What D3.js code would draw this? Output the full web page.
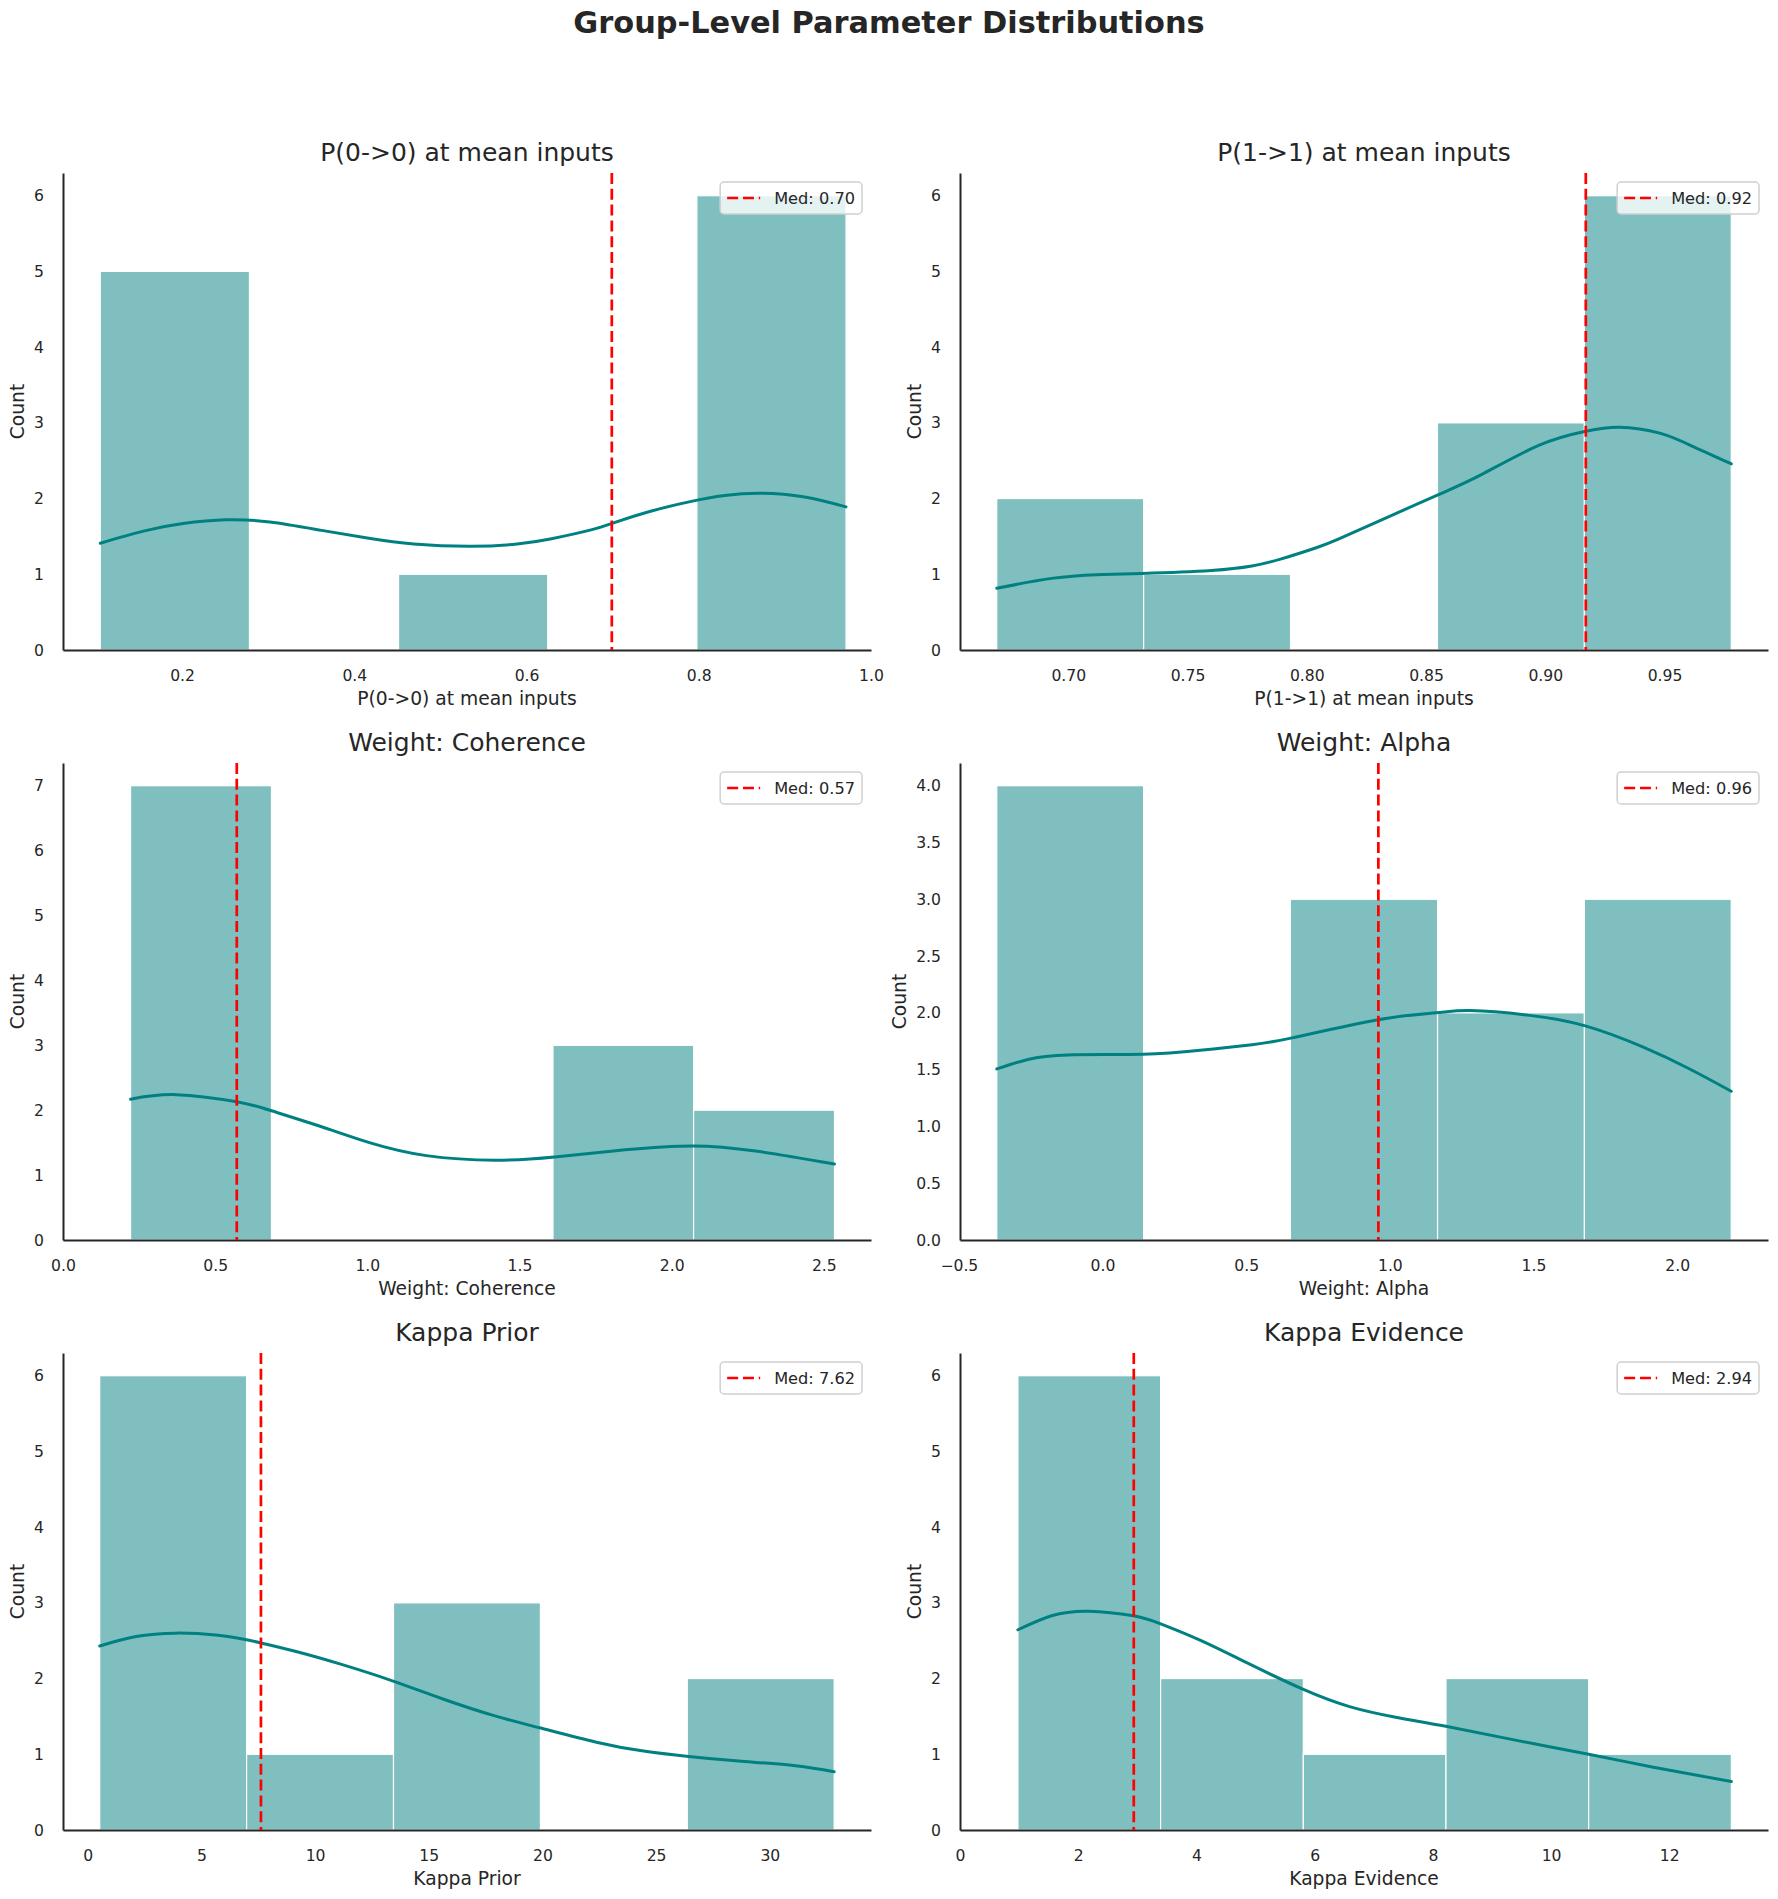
<!DOCTYPE html>
<html>
<head>
<meta charset="utf-8">
<script src="https://cdn.jsdelivr.net/npm/d3@7"></script>
<style>
  body { margin: 0; background: #fff; }
  svg text { font-family: "DejaVu Sans", sans-serif; fill: #262626; }
</style>
</head>
<body>
<svg id="chart" width="1778" height="1899"></svg>
<script>
// values
var titles = ["P(0->0) at mean inputs", "P(1->1) at mean inputs", "Weight: Coherence",
              "Weight: Alpha", "Kappa Prior", "Kappa Evidence"];
var medians = [0.699, 0.917, 0.571, 0.96, 7.62, 2.94];

var edgesP00 = [0.105, 0.2782, 0.4514, 0.6246, 0.7978, 0.971];
var countsP00 = [5, 0, 1, 0, 6];
var kdeP00 = [[0.105, 1.41], [0.155, 1.57], [0.201, 1.67], [0.252, 1.72], [0.302, 1.69],
              [0.362, 1.58], [0.415, 1.48], [0.469, 1.40], [0.536, 1.37], [0.589, 1.40],
              [0.629, 1.47], [0.676, 1.59], [0.701, 1.68], [0.743, 1.83], [0.790, 1.96],
              [0.830, 2.04], [0.873, 2.07], [0.923, 2.02], [0.971, 1.89]];

var edgesP11 = [0.670, 0.7316, 0.7932, 0.8548, 0.9164, 0.978];
var countsP11 = [2, 1, 0, 3, 6];
var kdeP11 = [[0.670, 0.815], [0.693, 0.946], [0.712, 0.995], [0.731, 1.012], [0.760, 1.051],
              [0.777, 1.11], [0.789, 1.20], [0.804, 1.35], [0.813, 1.46], [0.830, 1.70],
              [0.855, 2.049], [0.873, 2.312], [0.8975, 2.706], [0.917, 2.890], [0.931, 2.943],
              [0.948, 2.864], [0.9625, 2.680], [0.978, 2.459]];

var edgesCoh = [0.222, 0.685, 1.147, 1.610, 2.072, 2.535];
var countsCoh = [7, 0, 0, 3, 2];
var kdeCoh = [[0.222, 2.17], [0.373, 2.24], [0.571, 2.13], [0.672, 2.01], [0.84, 1.76],
              [1.007, 1.50], [1.194, 1.30], [1.418, 1.23], [1.616, 1.28], [1.847, 1.39],
              [2.071, 1.45], [2.276, 1.37], [2.535, 1.17]];

var edgesAlpha = [-0.368, 0.143, 0.654, 1.166, 1.677, 2.188];
var countsAlpha = [4, 0, 3, 2, 3];
var kdeAlpha = [[-0.368, 1.506], [-0.26, 1.59], [-0.12, 1.63], [0.14, 1.635], [0.34, 1.67],
                [0.52, 1.72], [0.66, 1.78], [0.96, 1.94], [1.16, 2.00], [1.28, 2.02],
                [1.48, 1.98], [1.68, 1.885], [1.88, 1.70], [2.04, 1.51], [2.188, 1.31]];

var edgesKp = [0.53, 6.99, 13.45, 19.91, 26.37, 32.83];
var countsKp = [6, 1, 3, 0, 2];
var kdeKp = [[0.53, 2.43], [2.125, 2.555], [3.875, 2.60], [5.625, 2.575], [6.925, 2.515],
             [7.625, 2.47], [9.125, 2.36], [11.125, 2.19], [13.4, 1.97], [15.625, 1.73],
             [17.875, 1.51], [19.875, 1.35], [22.375, 1.16], [24.375, 1.046], [26.43, 0.97],
             [28.625, 0.91], [31.125, 0.85], [32.83, 0.77]];

var edgesKe = [0.98, 3.394, 5.808, 8.222, 10.636, 13.05];
var countsKe = [6, 2, 1, 2, 1];
var kdeKe = [[0.98, 2.645], [1.55, 2.83], [2.18, 2.89], [2.93, 2.83], [3.374, 2.73],
             [4.07, 2.505], [4.85, 2.21], [5.80, 1.86], [6.59, 1.63], [7.37, 1.49],
             [8.22, 1.37], [9.31, 1.20], [10.635, 1.00], [11.73, 0.83], [13.05, 0.64]];

var xDomains = [[0.0617, 1.0], [0.6546, 0.9934], [0.0, 2.655], [-0.496, 2.316], [-1.085, 34.45], [0.0, 13.67]];
var xTicks = [[0.2, 0.4, 0.6, 0.8, 1.0], [0.70, 0.75, 0.80, 0.85, 0.90, 0.95], [0, 0.5, 1, 1.5, 2, 2.5],
              [-0.5, 0, 0.5, 1, 1.5, 2], [0, 5, 10, 15, 20, 25, 30], [0, 2, 4, 6, 8, 10, 12]];
var xFormats = [".1f", ".2f", ".1f", ".1f", "d", "d"];
var yTicks = [[0, 1, 2, 3, 4, 5, 6], [0, 1, 2, 3, 4, 5, 6], [0, 1, 2, 3, 4, 5, 6, 7],
              [0, 0.5, 1, 1.5, 2, 2.5, 3, 3.5, 4], [0, 1, 2, 3, 4, 5, 6], [0, 1, 2, 3, 4, 5, 6]];
var yFormats = ["d", "d", "d", ".1f", "d", "d"];

var allEdges = [edgesP00, edgesP11, edgesCoh, edgesAlpha, edgesKp, edgesKe];
var allCounts = [countsP00, countsP11, countsCoh, countsAlpha, countsKp, countsKe];
var allKde = [kdeP00, kdeP11, kdeCoh, kdeAlpha, kdeKp, kdeKe];

var svg = d3.select("#chart");
var ink = "#262626";
var colLeft = [63, 960], rowTop = [173, 763, 1353];
var pw = 808, ph = 477;

svg.append("text")
    .attr("x", 889).attr("y", 33)
    .attr("text-anchor", "middle")
    .style("font-size", "30.4px").style("font-weight", "bold")
    .text("Group-Level Parameter Distributions");

for (let i = 0; i < 6; i++) {
    let left = colLeft[i % 2], top = rowTop[Math.floor(i / 2)];
    let g = svg.append("g").attr("transform", "translate(" + left + "," + top + ")");

    let x = d3.scaleLinear().domain(xDomains[i]).range([0, pw]);
    let y = d3.scaleLinear().domain([0, d3.max(allCounts[i]) * 1.05]).range([ph, 0]);

    // histogram bars
    let bins = allCounts[i].map(function (c, k) {
        return { x0: allEdges[i][k], x1: allEdges[i][k + 1], n: c };
    }).filter(function (b) { return b.n > 0; });

    g.selectAll("rect.bar")
        .data(bins).enter()
        .append("rect")
        .attr("class", "bar")
        .attr("x", function (d) { return x(d.x0); })
        .attr("width", function (d) { return x(d.x1) - x(d.x0); })
        .attr("y", function (d) { return y(d.n); })
        .attr("height", function (d) { return y(0) - y(d.n); })
        .attr("fill", "teal").attr("fill-opacity", 0.5)
        .attr("stroke", "#fff").attr("stroke-width", 1.2);

    // kde curve
    let line = d3.line()
        .x(function (d) { return x(d[0]); })
        .y(function (d) { return y(d[1]); })
        .curve(d3.curveNatural);
    g.append("path")
        .datum(allKde[i])
        .attr("d", line)
        .attr("fill", "none")
        .attr("stroke", "teal").attr("stroke-width", 3)
        .attr("stroke-linecap", "round");

    // axes
    let xAxis = d3.axisBottom(x).tickValues(xTicks[i]).tickFormat(d3.format(xFormats[i]))
        .tickSize(0).tickPadding(20);
    let yAxis = d3.axisLeft(y).tickValues(yTicks[i]).tickFormat(d3.format(yFormats[i]))
        .tickSize(0).tickPadding(19);

    let gx = g.append("g").attr("transform", "translate(0," + ph + ")").call(xAxis);
    let gy = g.append("g").call(yAxis);
    [gx, gy].forEach(function (a) {
        a.select(".domain").attr("stroke", ink).attr("stroke-width", 2);
        a.selectAll("text").style("font-size", "15.6px").attr("fill", ink)
            .style("font-family", "'DejaVu Sans', sans-serif");
    });
    let tickW = d3.max(gy.selectAll("text").nodes(), function (n) { return n.getBBox().width; });

    // median line
    g.append("line")
        .attr("x1", x(medians[i])).attr("x2", x(medians[i]))
        .attr("y1", 0).attr("y2", ph)
        .attr("stroke", "red").attr("stroke-width", 2.7)
        .attr("stroke-dasharray", "11,4.8");

    // titles and labels
    g.append("text")
        .attr("x", pw / 2).attr("y", -12)
        .attr("text-anchor", "middle")
        .style("font-size", "25px")
        .text(titles[i]);
    g.append("text")
        .attr("x", pw / 2).attr("y", ph + 55)
        .attr("text-anchor", "middle")
        .style("font-size", "18.7px")
        .text(titles[i]);
    g.append("text")
        .attr("transform", "translate(" + (-(19 + tickW + 10)) + "," + (ph / 2) + ") rotate(-90)")
        .attr("text-anchor", "middle")
        .style("font-size", "18.7px")
        .text("Count");

    // legend
    let lg = g.append("g");
    let box = lg.append("rect");
    let lt = lg.append("text")
        .style("font-size", "16.2px")
        .text("Med: " + d3.format(".2f")(medians[i]));
    let tw = lt.node().getComputedTextLength();
    let bw = tw + 54 + 7, bh = 32;
    let bx = pw - 9 - bw, by = 9;
    box.attr("x", bx).attr("y", by).attr("width", bw).attr("height", bh)
        .attr("rx", 4)
        .attr("fill", "#fff").attr("fill-opacity", 0.8)
        .attr("stroke", "#d0d0d0").attr("stroke-width", 1.5);
    lt.attr("x", bx + 54).attr("y", by + bh / 2).attr("dy", "0.36em");
    lg.append("line")
        .attr("x1", bx + 7).attr("x2", bx + 40)
        .attr("y1", by + bh / 2).attr("y2", by + bh / 2)
        .attr("stroke", "red").attr("stroke-width", 2.7)
        .attr("stroke-dasharray", "11,4.8");
}
</script>
</body>
</html>
